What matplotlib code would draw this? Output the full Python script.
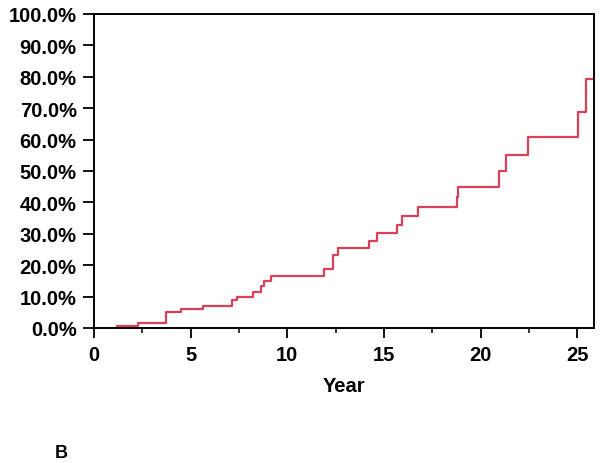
import matplotlib
matplotlib.use("Agg")
import matplotlib.pyplot as plt
from matplotlib.ticker import MultipleLocator, FuncFormatter

# -----------------------------
# DATA
# -----------------------------
years = [1.19, 2.29, 3.72, 4.49, 5.65, 7.12, 7.38, 8.21, 8.62, 8.79, 9.14,
         11.90, 12.38, 12.64, 14.24, 14.62, 15.66, 15.95, 16.78, 18.76, 18.85,
         20.95, 21.30, 22.47, 25.05, 25.44, 25.87]
cum_pct = [0.7, 1.6, 5.2, 6.0, 7.1, 8.9, 10.0, 11.6, 13.3, 14.9, 16.7,
           18.8, 23.2, 25.6, 27.8, 30.2, 32.8, 35.8, 38.4, 41.6, 45.0,
           49.9, 55.1, 60.7, 68.7, 79.3, 79.3]

x_label = "Year"
panel_tag = "B"

plt.rcParams["font.family"] = ["Liberation Sans", "DejaVu Sans"]
plt.rcParams["font.weight"] = "bold"

fig = plt.figure(figsize=(6.0, 4.64), dpi=100)
ax = fig.add_axes([0.1567, 0.291, 0.8333, 0.6767])

ax.step(years, cum_pct, where="post", color="#d9415a", lw=1.6)

ax.set_xlim(0, 25.87)
ax.set_ylim(0, 100)
ax.xaxis.set_major_locator(MultipleLocator(5))
ax.xaxis.set_minor_locator(MultipleLocator(2.5))
ax.yaxis.set_major_locator(MultipleLocator(10))
ax.yaxis.set_major_formatter(FuncFormatter(lambda v, p: f"{v:.1f}%"))

ax.tick_params(axis="x", which="major", length=7.2, width=1.3,
               labelsize=14.5, pad=5, direction="out")
ax.tick_params(axis="x", which="minor", length=3.6, width=1.1, direction="out")
ax.tick_params(axis="y", which="major", length=8, width=1.3,
               labelsize=14.5, pad=4.5, direction="out")
for lab in ax.get_xticklabels() + ax.get_yticklabels():
    lab.set_fontweight("bold")
for s in ax.spines.values():
    s.set_linewidth(1.4)

ax.set_xlabel(x_label, fontsize=14.5, fontweight="bold", labelpad=9)

fig.text(0.102, 0.004, panel_tag, fontsize=13, fontweight="bold",
         ha="center", va="bottom")

fig.savefig("out.png", dpi=100)
